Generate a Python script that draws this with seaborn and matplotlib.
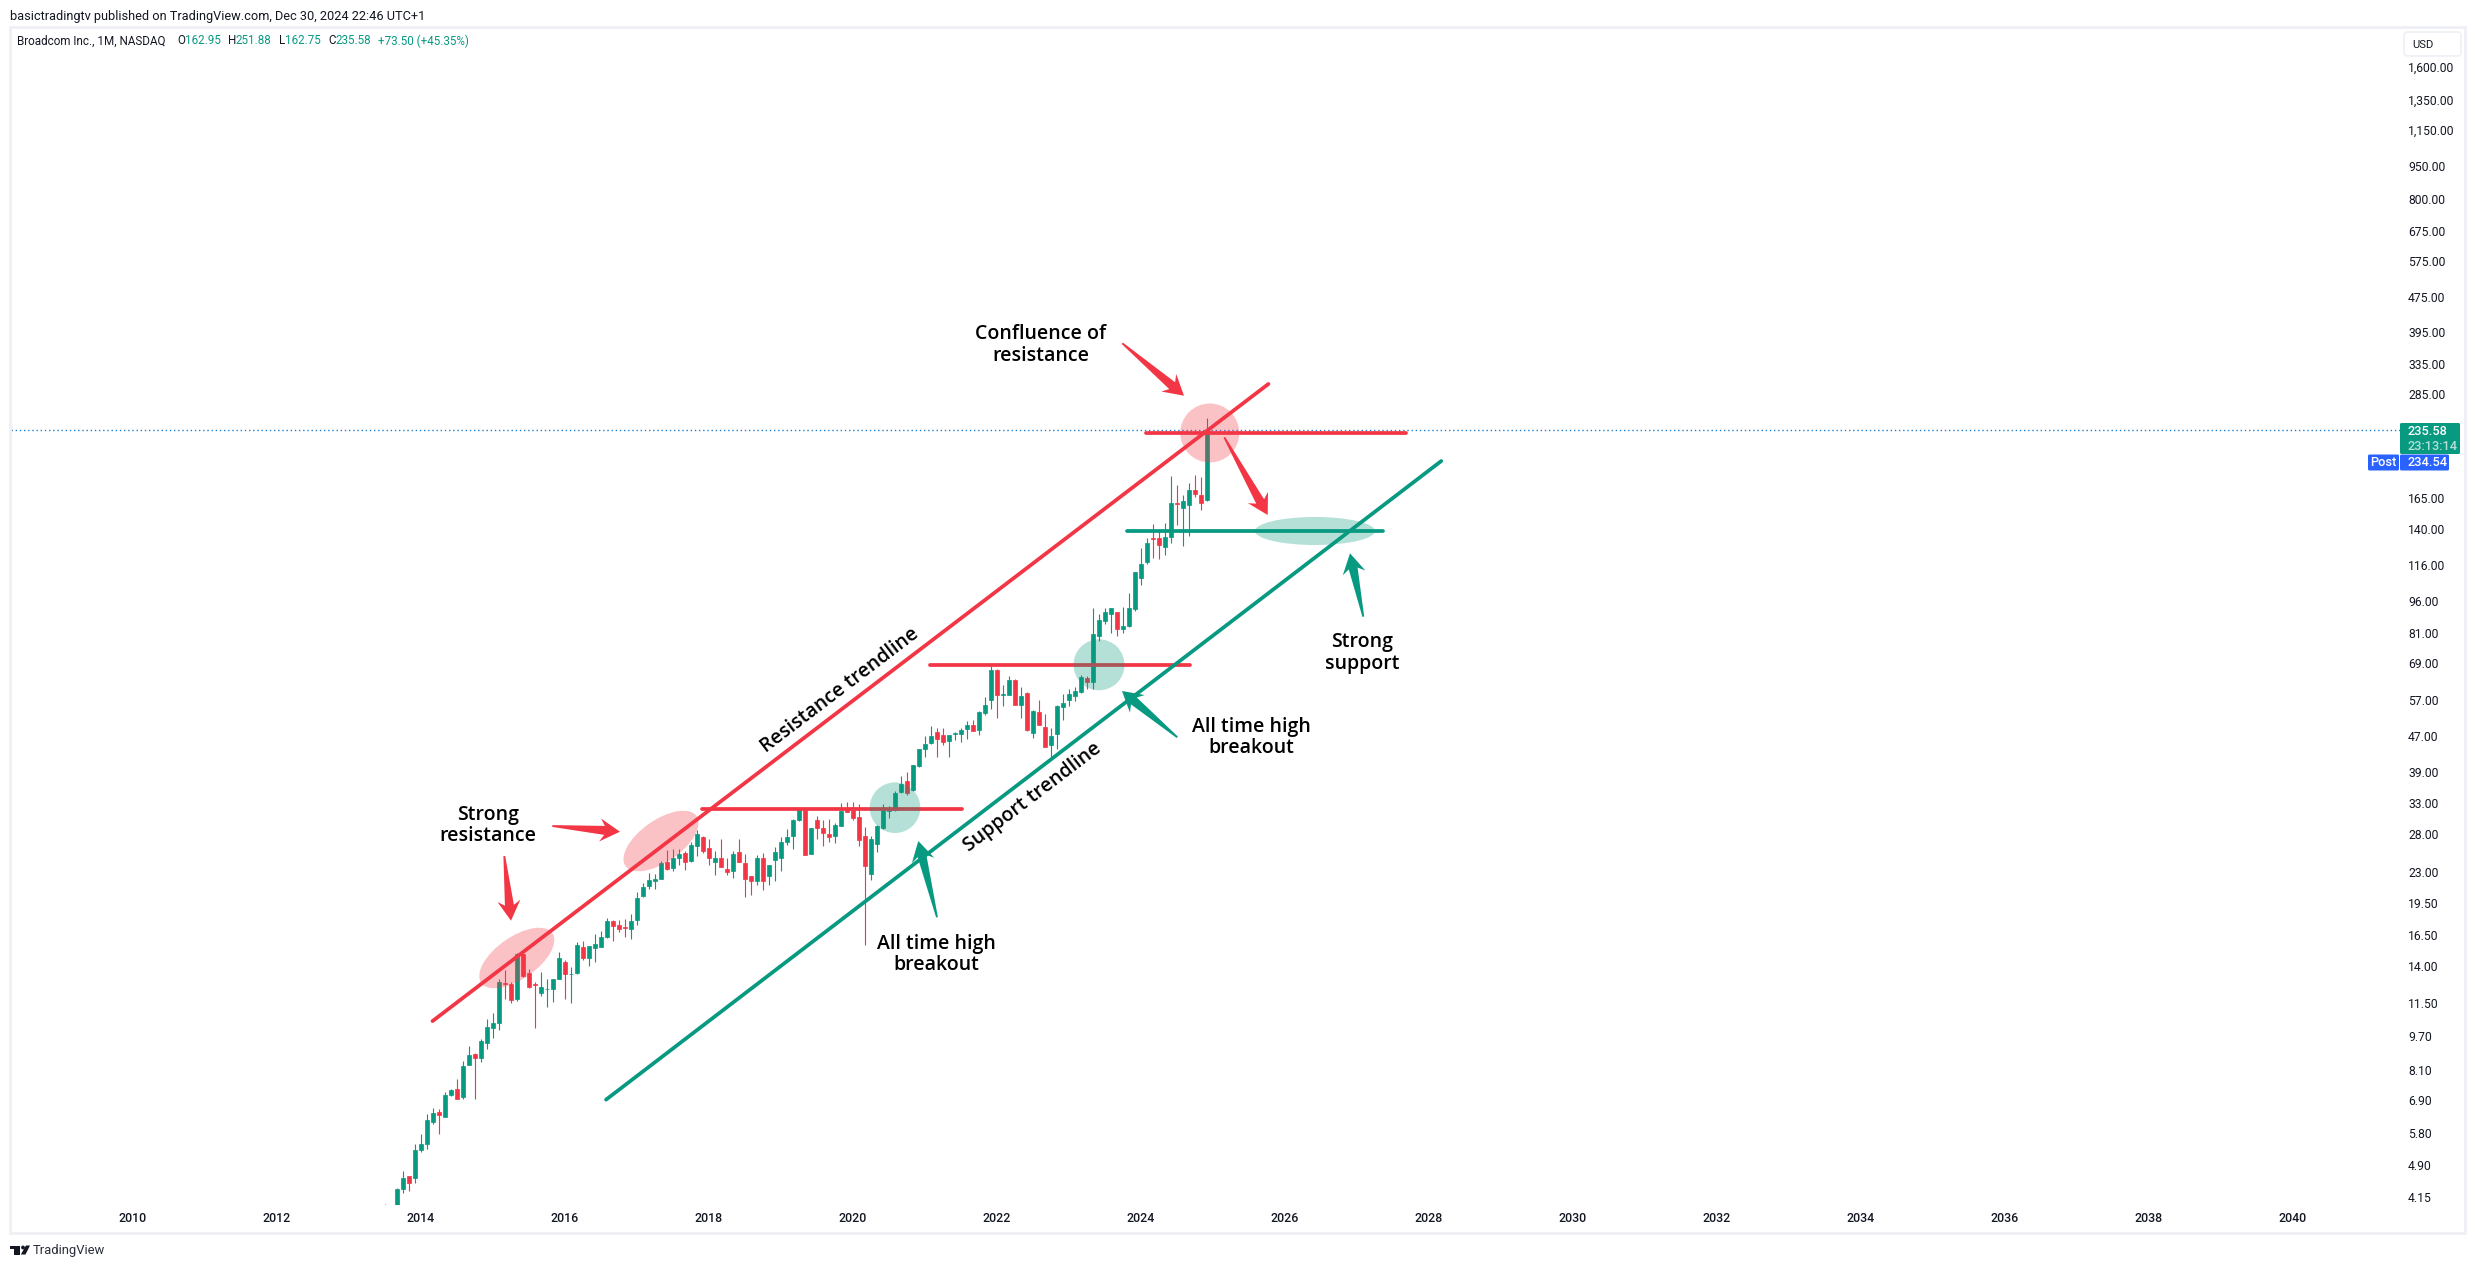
"""Broadcom monthly candles with trendline annotations (TradingView snapshot)."""
import matplotlib
matplotlib.use("Agg")
import matplotlib.pyplot as plt
from matplotlib.patches import Ellipse, FancyBboxPatch, Polygon, Rectangle, Circle
import numpy as np
import pandas as pd
import seaborn as sns

# ─── Data ─────────────────────────────────────────────────────────────────────
# two stray months poke up from below the pane, then the run from Sep 2013
early_months = ["2011-07", "2013-07", "2013-08"]
early_open = [3.90, 3.90, 3.80]
early_high = [3.98, 3.99, 3.98]
early_low = [3.70, 3.70, 3.70]
early_close = [3.80, 3.80, 3.90]

first_month = "2013-09"
opens = [
    3.95, 4.33, 4.62, 4.57,
    5.30, 5.48, 6.14, 6.50, 6.30, 7.10, 7.30, 7.00, 8.31, 8.79, 8.64, 9.33,
    10.09, 10.37, 12.77, 12.71, 11.78, 14.95, 13.50, 12.71, 12.17, 12.37, 12.42, 13.10,
    14.30, 13.41, 13.52, 15.45, 14.60, 15.40, 15.45, 16.30, 17.70, 17.35, 17.20, 17.05,
    17.80, 20.20, 21.30, 21.90, 22.20, 24.20, 23.45, 24.80, 25.35, 24.40, 26.30, 27.60,
    26.04, 24.20, 24.70, 23.40, 23.05, 25.50, 24.10, 22.45, 21.90, 24.80, 22.45, 24.45,
    24.80, 26.85, 27.75, 30.20, 32.00, 25.25, 30.20, 28.95, 28.05, 27.75, 29.25, 31.82,
    31.82, 30.65, 27.75, 22.70, 26.60, 28.95, 31.65, 31.82, 35.00, 37.10, 35.40, 40.10,
    43.90, 45.30, 48.00, 47.30, 45.75, 47.50, 47.50, 48.80, 49.80, 48.60, 53.00, 56.80,
    66.60, 58.30, 58.30, 63.10, 55.40, 59.00, 47.80, 53.50, 49.30, 44.90, 47.50, 54.85,
    56.80, 58.00, 59.40, 63.90, 62.50, 79.60, 86.10, 89.40, 90.40, 82.60, 83.90, 91.80,
    108.5, 117.8, 133.7, 133.7, 127.3, 134.2, 160.5, 156.4, 158.8, 172.1, 167.5, 162.95,
]
highs = [
    4.35, 4.76, 4.63, 5.47,
    5.76, 6.40, 6.63, 6.59, 7.22, 7.32, 7.70, 8.50, 9.16, 8.83, 9.55, 10.57,
    10.90, 13.05, 13.68, 12.84, 15.00, 15.00, 13.80, 12.84, 13.54, 13.05, 13.10, 15.05,
    14.45, 13.90, 15.85, 16.00, 15.55, 16.60, 16.80, 18.00, 17.80, 17.80, 17.90, 18.45,
    20.65, 21.65, 22.85, 22.70, 24.30, 25.80, 25.90, 26.00, 25.60, 26.90, 28.60, 27.80,
    27.40, 25.65, 27.40, 24.70, 25.65, 27.30, 25.20, 22.45, 25.10, 25.35, 23.80, 26.20,
    27.60, 28.80, 30.35, 32.30, 32.00, 28.95, 30.85, 30.20, 30.35, 29.75, 33.00, 33.15,
    33.15, 32.80, 29.10, 27.75, 29.40, 32.80, 32.50, 35.20, 38.05, 38.90, 40.30, 43.90,
    47.00, 49.55, 49.00, 49.00, 47.30, 48.00, 49.00, 50.85, 51.10, 53.80, 57.80, 68.10,
    67.00, 61.50, 64.40, 63.50, 60.80, 59.30, 54.10, 56.80, 52.90, 49.00, 55.40, 58.60,
    60.20, 60.80, 64.90, 64.60, 92.60, 89.30, 92.30, 92.30, 90.40, 92.80, 99.90, 111.5,
    127.0, 133.7, 143.8, 140.0, 144.5, 185.0, 176.5, 167.5, 178.9, 186.1, 183.9, 251.88,
]
lows = [
    3.85, 4.22, 4.28, 4.47,
    5.25, 5.34, 6.08, 5.76, 6.30, 7.04, 6.93, 6.93, 8.31, 6.93, 8.42, 9.02,
    9.56, 9.98, 11.74, 11.50, 11.62, 13.20, 12.44, 10.09, 11.95, 11.25, 11.56, 13.10,
    11.78, 11.50, 13.45, 14.45, 14.00, 14.30, 15.45, 16.20, 15.95, 16.75, 16.30, 16.10,
    17.40, 20.14, 21.00, 21.00, 22.20, 23.20, 23.10, 23.90, 23.20, 24.20, 25.00, 25.35,
    23.80, 22.60, 23.55, 22.60, 22.25, 24.20, 20.10, 20.30, 21.45, 20.90, 21.45, 21.90,
    23.05, 26.45, 26.00, 30.00, 25.10, 25.25, 27.30, 26.30, 26.95, 26.75, 29.25, 31.50,
    30.20, 26.30, 15.60, 22.00, 25.50, 28.80, 30.50, 31.65, 34.80, 34.40, 35.20, 39.90,
    42.10, 45.10, 42.10, 44.80, 42.10, 46.00, 45.50, 46.25, 48.20, 47.30, 52.70, 54.20,
    51.80, 55.10, 58.30, 55.40, 51.80, 48.40, 46.50, 49.80, 44.50, 42.10, 43.90, 51.20,
    55.10, 56.60, 59.00, 60.20, 60.30, 77.50, 84.70, 81.00, 79.60, 80.80, 83.40, 90.80,
    104.2, 116.5, 120.0, 119.4, 122.0, 130.0, 143.0, 127.9, 134.9, 165.7, 155.0, 162.75,
]
closes = [
    4.33, 4.57, 4.47, 5.32,
    5.48, 6.20, 6.46, 6.37, 7.10, 7.27, 6.93, 8.25, 8.74, 8.64, 9.44, 10.14,
    10.37, 12.84, 12.71, 11.68, 14.95, 13.25, 12.50, 12.65, 12.55, 12.42, 13.10, 14.60,
    13.40, 13.45, 15.60, 14.60, 15.55, 15.70, 16.30, 17.70, 17.25, 17.05, 17.10, 17.70,
    20.00, 21.20, 22.00, 22.10, 24.05, 23.30, 24.70, 25.20, 24.20, 26.45, 28.00, 25.60,
    24.70, 24.70, 23.55, 22.95, 25.20, 24.20, 22.10, 21.90, 24.70, 21.90, 23.80, 25.50,
    26.85, 27.60, 30.20, 32.00, 25.10, 28.95, 28.95, 28.20, 27.60, 29.40, 31.65, 31.50,
    30.50, 27.15, 23.70, 27.30, 29.25, 31.82, 31.82, 34.80, 36.50, 34.80, 40.30, 43.90,
    45.10, 47.00, 46.25, 45.50, 47.30, 47.80, 48.60, 49.80, 48.20, 53.50, 55.40, 66.60,
    58.30, 58.60, 63.10, 55.40, 58.00, 48.60, 53.80, 49.80, 44.50, 47.00, 55.10, 56.00,
    58.60, 59.60, 64.20, 62.50, 80.40, 86.60, 90.40, 92.30, 82.60, 83.90, 92.30, 111.5,
    116.5, 130.0, 132.9, 128.5, 134.4, 160.5, 159.7, 162.2, 172.1, 168.4, 160.5, 235.58,
]

last_price = 235.58
price_ticks = [1600, 1350, 1150, 950, 800, 675, 575, 475, 395, 335, 285, 165, 140, 116,
               96, 81, 69, 57, 47, 39, 33, 28, 23, 19.5, 16.5, 14, 11.5, 9.7, 8.1, 6.9,
               5.8, 4.9, 4.15]
year_ticks = list(range(2010, 2042, 2))

# name, side, start year, start price, end year, end price
drawn_names = ["resistance", "support", "ath_2018", "ath_2021", "top_2024", "base_2024"]
drawn_sides = ["red", "green", "red", "red", "red", "green"]
drawn_start_year = [2014.16, 2016.57, 2017.90, 2021.07, 2024.07, 2023.81]
drawn_start_price = [10.47, 6.92, 32.0, 68.4, 232.8, 138.6]
drawn_end_year = [2025.77, 2028.17, 2021.51, 2024.68, 2027.68, 2027.36]
drawn_end_price = [301.0, 200.5, 32.0, 68.4, 232.8, 138.6]

# ─── Style ────────────────────────────────────────────────────────────────────
GREEN = "#089981"
RED = "#F23645"
INK = "#131722"
BLUE = "#2962FF"
BORDER = "#EEF0F6"
SANS = "Roboto"
LABEL_FONT = "Open Sans"

W, H = 2475, 1268
AX_LEFT, AX_RIGHT, AX_TOP, AX_BOTTOM = 11, 2400, 28, 1205
PX_PER_YEAR = 72.0
PX_PER_LOG = 189.7


def year_at(px):
    return 2010 + (px - 133) / PX_PER_YEAR


def price_at(py):
    return 165 * np.exp((498 - py) / PX_PER_LOG)


def arrow(ov, tail, tip, color):
    """Tapered TradingView-style arrow, in overlay pixels."""
    tail, tip = np.array(tail, float), np.array(tip, float)
    d = (tip - tail) / np.linalg.norm(tip - tail)
    n = np.array([-d[1], d[0]])
    pts = [tail + n * 0.9, tip - d * 15.5 + n * 4.5, tip - d * 20 + n * 11.5, tip,
           tip - d * 20 - n * 11.5, tip - d * 15.5 - n * 4.5, tail - n * 0.9]
    ov.add_patch(Polygon(pts, closed=True, fc=color, ec="none", zorder=4))


# ─── Frames ───────────────────────────────────────────────────────────────────
candles = pd.DataFrame({
    "month": early_months + list(pd.date_range(first_month, periods=len(opens), freq="MS").strftime("%Y-%m")),
    "open": early_open + opens,
    "high": early_high + highs,
    "low": early_low + lows,
    "close": early_close + closes,
})
stamp = pd.to_datetime(candles["month"])
candles["year"] = stamp.dt.year + (stamp.dt.month - 1) / 12
candles["up"] = candles["close"] >= candles["open"]
candles["color"] = np.where(candles["up"], GREEN, RED)

drawn = pd.concat([
    pd.DataFrame({"name": drawn_names, "side": drawn_sides, "year": drawn_start_year, "price": drawn_start_price}),
    pd.DataFrame({"name": drawn_names, "side": drawn_sides, "year": drawn_end_year, "price": drawn_end_price}),
])

# ─── Chart ────────────────────────────────────────────────────────────────────
sns.set_theme(style="white", rc={"axes.facecolor": "none", "figure.facecolor": "white"})
plt.rcParams["font.family"] = [SANS, "DejaVu Sans"]

fig = plt.figure(figsize=(W / 100, H / 100), dpi=100)
ax = fig.add_axes([AX_LEFT / W, 1 - AX_BOTTOM / H, (AX_RIGHT - AX_LEFT) / W, (AX_BOTTOM - AX_TOP) / H])
ax.set_yscale("log")

ax.vlines(candles["year"], candles["low"], candles["high"], colors=candles["color"], linewidth=0.8, zorder=2)
ax.bar(candles["year"], (candles["close"] - candles["open"]).abs(),
       bottom=candles[["open", "close"]].min(axis=1), width=4.5 / PX_PER_YEAR,
       color=candles["color"], edgecolor=candles["color"], linewidth=0.5, zorder=3)

ax.axhline(last_price, color="#1E7FCB", linewidth=1.0, linestyle=(0, (1, 2)), zorder=4)
sns.lineplot(data=drawn, x="year", y="price", hue="side", units="name", estimator=None,
             palette={"red": RED, "green": GREEN}, linewidth=2.7, legend=False, ax=ax,
             solid_capstyle="round", zorder=5)

ax.set_xlim(year_at(AX_LEFT), year_at(AX_RIGHT))
ax.set_ylim(price_at(AX_BOTTOM), price_at(AX_TOP))
ax.set_xticks(year_ticks, [str(y) for y in year_ticks])
ax.set_yticks(price_ticks, [f"{p:,.2f}" for p in price_ticks])
ax.minorticks_off()
ax.yaxis.tick_right()
ax.tick_params(axis="y", length=0, pad=5.8, labelsize=8.7, labelcolor=INK)
ax.tick_params(axis="x", length=0, pad=5.0, labelsize=8.9, labelcolor=INK)
ax.set_xlabel("")
ax.set_ylabel("")
for lab in ax.get_xticklabels():
    lab.set_fontweight("medium")
sns.despine(ax=ax, left=True, bottom=True)
for spine in ax.spines.values():
    spine.set_visible(False)

# ─── Drawings and page furniture, in screen pixels ────────────────────────────
ov = fig.add_axes([0, 0, 1, 1])
ov.set_xlim(0, W)
ov.set_ylim(H, 0)
ov.axis("off")

ov.add_patch(Rectangle((10, 27), 2455, 1206, fc="none", ec=BORDER, lw=2.0, zorder=1))

for (cx, cy, a, b, ang, col) in [
    (516.8, 958, 43.4, 21, -35, RED), (661, 841, 43.4, 21, -35, RED),
    (895, 807.7, 25.3, 25.3, 0, GREEN), (1099, 664.8, 25.5, 25.5, 0, GREEN),
    (1209.8, 433, 29.5, 29.5, 0, RED), (1315, 531, 60, 14, 0, GREEN),
]:
    ov.add_patch(Ellipse((cx, cy), 2 * a, 2 * b, angle=ang, fc=col, alpha=0.3, ec="none", zorder=3))

arrow(ov, (504.3, 856), (511, 920.7), RED)
arrow(ov, (552.3, 826), (620, 831.7), RED)
arrow(ov, (937, 917.3), (918.3, 841), GREEN)
arrow(ov, (1177.3, 737.3), (1122, 691), GREEN)
arrow(ov, (1122.3, 343.3), (1184, 395.7), RED)
arrow(ov, (1224.3, 437.3), (1267.7, 515), RED)
arrow(ov, (1363.3, 616.7), (1350, 553.3), GREEN)

label_kw = dict(family=LABEL_FONT, fontsize=14, fontweight="semibold", color="black",
                ha="center", va="center", zorder=6, linespacing=1.08)
ov.text(487.6, 825.5, "Strong\nresistance", **label_kw)
ov.text(936.5, 954.5, "All time high\nbreakout", **label_kw)
ov.text(1251.5, 737.5, "All time high\nbreakout", **label_kw)
ov.text(1041, 345, "Confluence of\nresistance", **label_kw)
ov.text(1362, 653, "Strong\nsupport", **label_kw)
ov.text(840, 690, "Resistance trendline", rotation=37.3, rotation_mode="anchor", **label_kw)
ov.text(1033, 797, "Support trendline", rotation=37.3, rotation_mode="anchor", **label_kw)

# header
ov.text(9.5, 16.5, "basictradingtv published on TradingView.com, Dec 30, 2024 22:46 UTC+1",
        fontsize=9.2, color=INK, va="center", ha="left")
ov.text(17, 41, "Broadcom Inc., 1M, NASDAQ", fontsize=8.4, color=INK, va="center", ha="left")
for px, letter, px_val, val in [(177, "O", 185, "162.95"), (228, "H", 236, "251.88"),
                                (279, "L", 285.5, "162.75"), (328, "C", 335, "235.58")]:
    ov.text(px, 41, letter, fontsize=8.4, color=INK, va="center", ha="left")
    ov.text(px_val, 41, val, fontsize=8.4, color=GREEN, va="center", ha="left")
ov.text(378, 41, "+73.50 (+45.35%)", fontsize=8.4, color=GREEN, va="center", ha="left")

# scale badges
ov.add_patch(FancyBboxPatch((2404, 32), 57, 24, boxstyle="round,pad=0,rounding_size=4",
                            fc="white", ec=BORDER, lw=1.2, zorder=2))
ov.text(2422.5, 45, "USD", fontsize=8.0, color=INK, va="center", ha="center")

tag_kw = dict(fontsize=9.2, fontweight="medium", va="center", zorder=5)
ov.add_patch(FancyBboxPatch((2400, 423), 60, 31, boxstyle="round,pad=0,rounding_size=1.5",
                            fc=GREEN, ec="none", zorder=4))
ov.text(2408, 431.5, "235.58", color="white", ha="left", **tag_kw)
ov.text(2408, 446, "23:13:14", color="#B5E0D9", ha="left", **tag_kw)
ov.add_patch(FancyBboxPatch((2400, 454.5), 49, 16, boxstyle="round,pad=0,rounding_size=1.5",
                            fc=BLUE, ec="none", zorder=4))
ov.text(2408, 463, "234.54", color="white", ha="left", **tag_kw)
ov.add_patch(FancyBboxPatch((2368, 454.5), 31, 16, boxstyle="round,pad=0,rounding_size=1.5",
                            fc=BLUE, ec="none", zorder=4))
ov.text(2383.5, 463, "Post", color="white", ha="center", **tag_kw)

# footer logo
ov.add_patch(Polygon([(10, 1245.5), (20, 1245.5), (20, 1254.5), (14, 1254.5), (14, 1249), (10, 1249)],
                     fc=INK, ec="none"))
ov.add_patch(Circle((23, 1247.5), 1.9, fc=INK, ec="none"))
ov.add_patch(Polygon([(26, 1245.5), (30, 1245.5), (25.5, 1254.5), (20.8, 1254.5)], fc=INK, ec="none"))
ov.text(33, 1250.5, "TradingView", fontsize=9.4, color="#2A2E39", va="center", ha="left")

fig.savefig("out.png", dpi=100, facecolor="white")
